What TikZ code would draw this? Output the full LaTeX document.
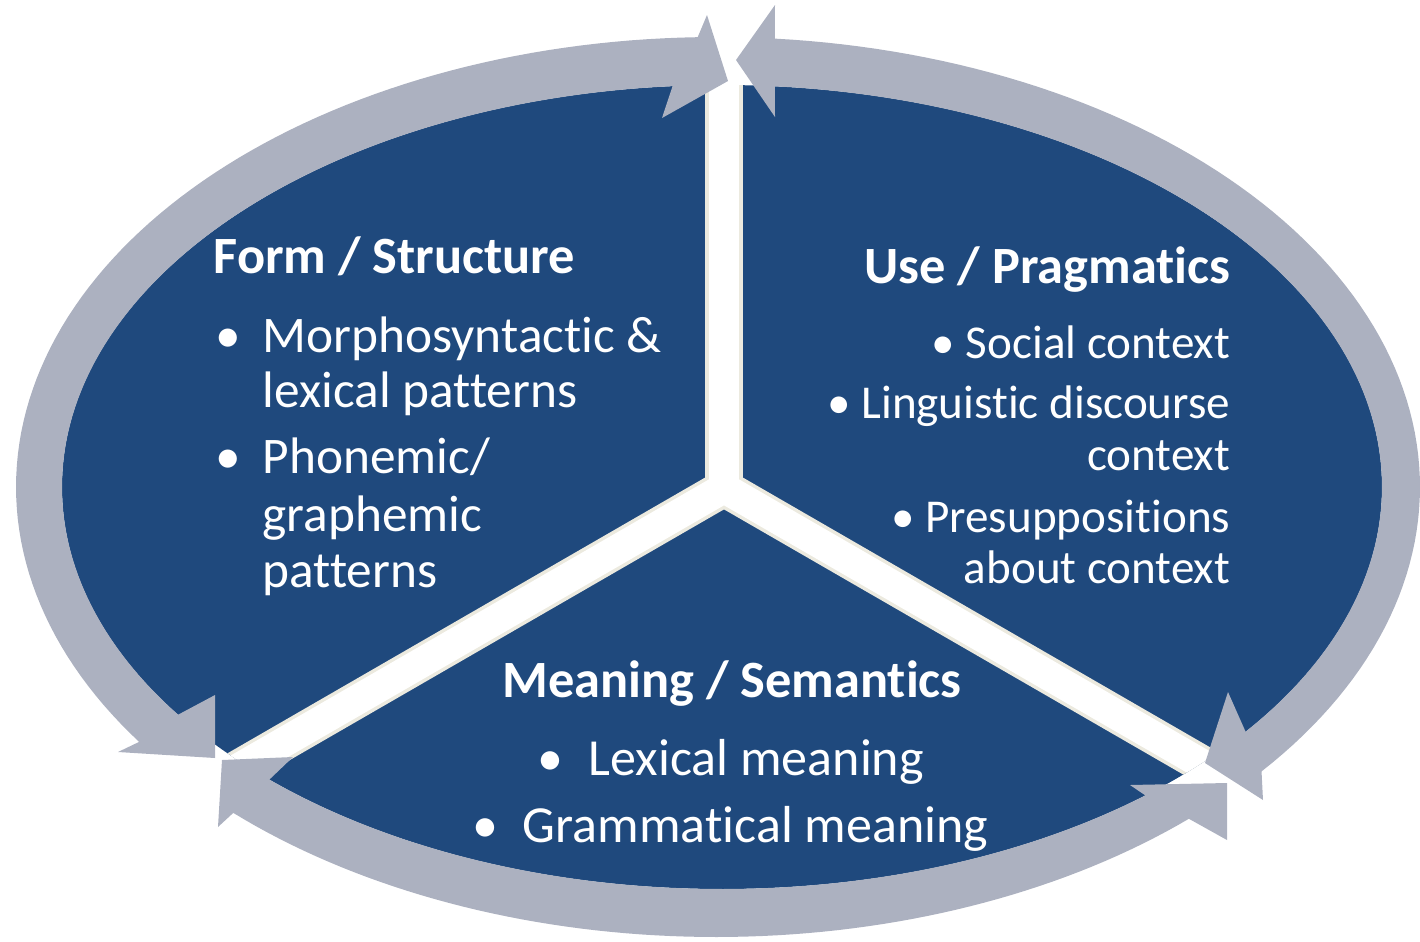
\documentclass[tikz,border=0pt]{standalone}
\usepackage{fontspec}
\setmainfont[Ligatures={NoCommon}]{Carlito}
\usetikzlibrary{calc}
\definecolor{panelblue}{RGB}{31,73,125}
\definecolor{ringgray}{RGB}{172,177,192}
\definecolor{edgebeige}{RGB}{236,234,223}
\tikzset{
  ttl/.style={text=white, inner sep=0pt, font=\fontsize{14.9}{17}\selectfont\bfseries},
  txtL/.style={text=white, inner sep=0pt, font=\fontsize{14.6}{17}\selectfont},
  txtR/.style={text=white, inner sep=0pt, font=\fontsize{13.4}{16}\selectfont},
  txtB/.style={text=white, inner sep=0pt, font=\fontsize{14.8}{17}\selectfont},
  ringarrow/.style={fill=ringgray, draw=none},
  bandedge/.style={draw=edgebeige, line width=0.37cm, line cap=round},
  bandfill/.style={draw=white, line width=0.30cm, line cap=round},
}
\begin{document}
\begin{tikzpicture}[x=0.01cm, y=-0.01cm]
\useasboundingbox (0,0) rectangle (1420,941);
\coordinate (Ci) at (722,487);
\coordinate (J) at (724,488);
% blue disc
\fill[panelblue] (Ci) ellipse [x radius=660, y radius=402];
% white dividing bands
\begin{scope}
  \clip (Ci) ellipse [x radius=660, y radius=402];
  \coordinate (bTop) at (724,-50);
  \coordinate (bLeft) at ($(J)+(-900*0.8660,900*0.5)$);
  \coordinate (bRight) at ($(J)+(900*0.8660,900*0.5)$);
  \draw[bandedge] (J) -- (bTop);
  \draw[bandedge] (J) -- (bLeft);
  \draw[bandedge] (J) -- (bRight);
  \draw[bandfill] (J) -- (bTop);
  \draw[bandfill] (J) -- (bLeft);
  \draw[bandfill] (J) -- (bRight);
\end{scope}
% left arc (double headed)
\fill[ringarrow]
  plot[domain=91.5:214.5, samples=90, variable=\t] ({716+700*cos(\t)},{487-450*sin(\t)})
  -- (118,752) -- (215,758) -- (215,695)
  -- plot[domain=214.5:94.3, samples=90, variable=\t] ({722+660*cos(\t)},{487-402*sin(\t)})
  -- (662,118) -- (728,81) -- (707,15) -- cycle;
% right arc
\fill[ringarrow]
  plot[domain=85.2:-39.2, samples=90, variable=\t] ({716+704*cos(\t)},{487-450*sin(\t)})
  -- (1263,800) -- (1205,763) -- (1228,692)
  -- plot[domain=-37.5:85.4, samples=90, variable=\t] ({722+660*cos(\t)},{487-402*sin(\t)})
  -- (775,117) -- (736,60) -- (775,5) -- cycle;
% bottom arc
\fill[ringarrow]
  plot[domain=226.4:312.5, samples=70, variable=\t] ({716+700*cos(\t)},{487-450*sin(\t)})
  -- (1227,840) -- (1227,783) -- (1130,785)
  -- plot[domain=309.9:226.7, samples=70, variable=\t] ({722+660*cos(\t)},{487-402*sin(\t)})
  -- (293,757) -- (222,760) -- (218,827) -- cycle;
% Form / Structure
\node[ttl, anchor=base west] (formT) at (213,273) {Form / Structure};
\node[txtL, anchor=base] (fb1) at (228,352) {•};
\node[txtL, anchor=base west] (f1a) at (262,352) {Morphosyntactic \&};
\node[txtL, anchor=base west] (f1b) at (262,407) {lexical patterns};
\node[txtL, anchor=base] (fb2) at (228,473) {•};
\node[txtL, anchor=base west] (f2a) at (262,473) {Phonemic/};
\node[txtL, anchor=base west] (f2b) at (262,531) {graphemic};
\node[txtL, anchor=base west] (f2c) at (262,587) {patterns};
% Use / Pragmatics
\node[ttl, anchor=base east] (useT) at (1231,283) {Use / Pragmatics};
\node[txtR, anchor=base east] (u1) at (1231,358) {• Social context};
\node[txtR, anchor=base east] (u2a) at (1231,418) {• Linguistic discourse};
\node[txtR, anchor=base east] (u2b) at (1231,470) {context};
\node[txtR, anchor=base east] (u3a) at (1231,532) {• Presuppositions};
\node[txtR, anchor=base east] (u3b) at (1231,583) {about context};
% Meaning / Semantics
\node[ttl, anchor=base] (meanT) at (732,697) {Meaning / Semantics};
\node[txtB, anchor=base] (mb1) at (550,775) {•};
\node[txtB, anchor=base west] (m1) at (588,775) {Lexical meaning};
\node[txtB, anchor=base] (mb2) at (485,842) {•};
\node[txtB, anchor=base west] (m2) at (522,842) {Grammatical meaning};
\end{tikzpicture}
\end{document}
